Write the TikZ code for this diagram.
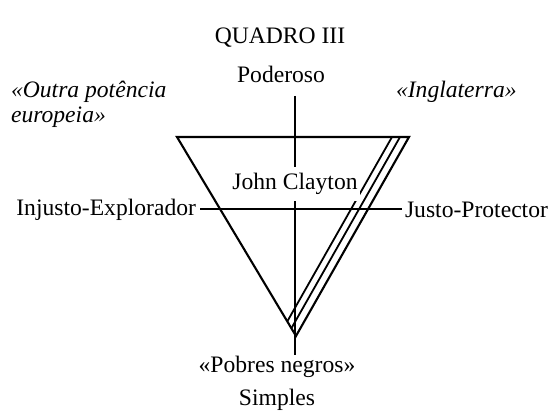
\documentclass[tikz,border=0pt]{standalone}
\usepackage{fontspec}
\setmainfont{Liberation Serif}
\begin{document}
\begin{tikzpicture}[x=1pt,y=-1pt,line width=2.1pt,
  lbl/.style={font=\fontsize{23.6}{28}\selectfont, inner sep=0pt},
  ilbl/.style={font=\fontsize{23.6}{28}\selectfont\itshape, inner sep=0pt, align=left}]
\useasboundingbox (0,0) rectangle (549,414);
\node[lbl] (title) at (280,38) {QUADRO III};
\node[lbl] (pod) at (281,74) {Poderoso};
\node[ilbl, anchor=west] (outra) at (10,92) {«Outra potência};
\node[ilbl, anchor=west] (euro) at (10,117) {europeia»};
\node[ilbl, anchor=west] (ingl) at (395,92) {«Inglaterra»};
\node[lbl, anchor=east] (inj) at (197,210) {Injusto-Explorador};
\node[lbl, anchor=west] (just) at (404,210) {Justo-Protector};
\node[lbl] (pobres) at (277,367) {«Pobres negros»};
\node[lbl] (simples) at (277,400) {Simples};
\coordinate (tl) at (177,137);
\coordinate (tr) at (409,137);
\coordinate (bt) at (296,336);
\coordinate (s1) at (400,137);
\coordinate (s2) at (392,137);
\coordinate (vtop) at (295,96);
\coordinate (vbot) at (295,355);
\coordinate (hl) at (200,209);
\coordinate (hr) at (402,209);
% axes
\draw (vtop) -- (vbot);
\draw (hl) -- (hr);
% triangle
\draw[line join=miter] (tl) -- (tr) -- (bt) -- cycle;
\begin{scope}
  \clip (tl) -- (tr) -- (bt) -- cycle;
  \draw[line width=1.8pt] (s1) -- ++(-113*1.2,199*1.2);
  \draw[line width=1.8pt] (s2) -- ++(-113*1.2,199*1.2);
\end{scope}
\node[lbl, fill=white, inner ysep=6pt, inner xsep=2pt] (jc) at (295,184) {John Clayton};
\end{tikzpicture}
\end{document}
